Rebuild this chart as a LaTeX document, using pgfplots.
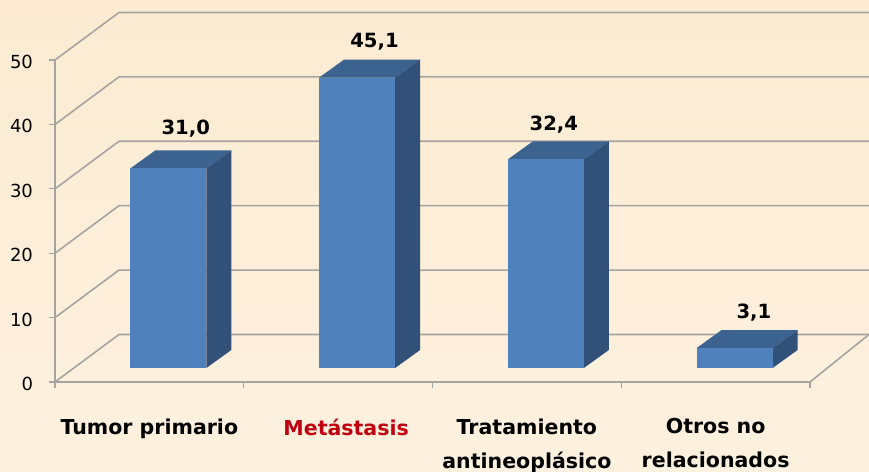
\documentclass[border=0pt]{standalone}
\usepackage{fontspec}
\setmainfont{DejaVu Sans}
\usepackage{pgfplots}
\pgfplotsset{compat=1.18}
% 1px = 0.75pt, page is 869x472 px
\definecolor{bgtop}{HTML}{FCEBD2}
\definecolor{bgbot}{HTML}{FDF1DF}
\definecolor{gridc}{HTML}{A6A4A0}
\definecolor{front}{HTML}{4F81BD}
\definecolor{topf}{HTML}{3C628F}
\definecolor{sidef}{HTML}{315178}
\definecolor{meta}{HTML}{C00010}
\pgfplotsset{
  wall/.style={gridc,line width=1.2pt},
  face/.style={draw=none,fill=#1,xshift=14.25pt,yshift=10.5pt},
  bar/.style 2 args={ybar,bar width=57pt,bar shift=0pt,draw=none,fill=front,xshift=14.25pt,yshift=10.5pt,
    nodes near coords,
    every node near coord/.append style={anchor=center,xshift=#1,yshift=#2,text=black,
      font=\bfseries\fontsize{14.7pt}{16pt}\selectfont,
      /pgf/number format/assume math mode=true,
      /pgf/number format/use comma,/pgf/number format/fixed,
      /pgf/number format/fixed zerofill,/pgf/number format/precision=1}},
}
\begin{document}
\begin{tikzpicture}
\useasboundingbox (-41.25pt,-67.5pt) rectangle (610.5pt,286.5pt);
\shade[top color=bgtop,bottom color=bgbot] (-41.25pt,-67.5pt) rectangle (610.5pt,286.5pt);
\begin{axis}[
  scale only axis,
  width=566.25pt, height=241.5pt,
  xmin=0, xmax=4, ymin=0, ymax=50,
  clip=false,
  axis lines=left,
  axis line style={-,gridc,line width=1.2pt},
  tick style={gridc,line width=1pt},
  tick align=outside,
  major tick length=4.5pt,
  xtick={0,1,2,3,4},
  x tick label as interval,
  xticklabels={Tumor primario,\hspace*{12pt}\textcolor{meta}{Metástasis},Tratamiento\\antineoplásico,Otros no\\relacionados},
  xticklabel style={align=center,font=\bfseries\fontsize{15.4pt}{25.5pt}\selectfont,yshift=-19.5pt},
  ytick={0,10,20,30,40,50},
  yticklabel style={font=\fontsize{13.5pt}{16pt}\selectfont,xshift=-8.5pt,yshift=-1.5pt,/pgf/number format/assume math mode=true},
]
% back wall and floor lines
\addplot[wall] coordinates {(0,0)(0.339,7.38)(4.3126,7.38)};
\addplot[wall] coordinates {(0,10)(0.339,17.38)(4.3126,17.38)};
\addplot[wall] coordinates {(0,20)(0.339,27.38)(4.3126,27.38)};
\addplot[wall] coordinates {(0,30)(0.339,37.38)(4.3126,37.38)};
\addplot[wall] coordinates {(0,40)(0.339,47.38)(4.3126,47.38)};
\addplot[wall] coordinates {(0,50)(0.339,57.38)(4.3126,57.38)};
\addplot[wall] coordinates {(4,0)(4.3126,7.38)};
% tops
\addplot[face=topf] coordinates {(0.2987,31.0)(0.7013,31.0)(0.8338,33.8)(0.4312,33.8)};
\addplot[face=topf] coordinates {(1.2987,45.1)(1.7013,45.1)(1.8338,47.9)(1.4312,47.9)};
\addplot[face=topf] coordinates {(2.2987,32.4)(2.7013,32.4)(2.8338,35.2)(2.4312,35.2)};
\addplot[face=topf] coordinates {(3.2987,3.1)(3.7013,3.1)(3.8338,5.9)(3.4312,5.9)};
% sides
\addplot[face=sidef] coordinates {(0.7013,0)(0.8338,2.8)(0.8338,33.8)(0.7013,31.0)};
\addplot[face=sidef] coordinates {(1.7013,0)(1.8338,2.8)(1.8338,47.9)(1.7013,45.1)};
\addplot[face=sidef] coordinates {(2.7013,0)(2.8338,2.8)(2.8338,35.2)(2.7013,32.4)};
\addplot[face=sidef] coordinates {(3.7013,0)(3.8338,2.8)(3.8338,5.9)(3.7013,3.1)};
% front faces with the values
\addplot[bar={13pt}{29.5pt}] coordinates {(0.5,31.0)};
\addplot[bar={13pt}{26.5pt}] coordinates {(1.5,45.1)};
\addplot[bar={6pt}{26pt}] coordinates {(2.5,32.4)};
\addplot[bar={14.5pt}{26.5pt}] coordinates {(3.5,3.1)};
\end{axis}
\end{tikzpicture}
\end{document}
